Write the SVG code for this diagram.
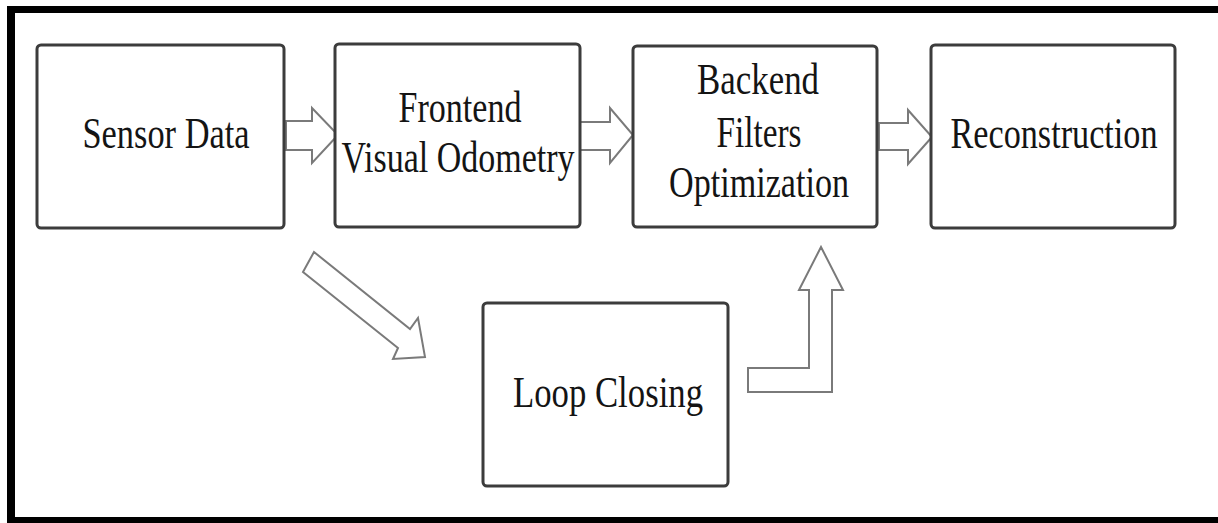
<svg xmlns="http://www.w3.org/2000/svg" width="1218" height="523" viewBox="0 0 1218 523">
  <style>
    .box { fill: #ffffff; stroke: #3c3c3c; stroke-width: 3; }
    .label { font-family: "Liberation Serif", "Times New Roman", Tinos, "DejaVu Serif", serif; font-size: 34px; fill: #141414; text-anchor: middle; }
    .flow { fill: #ffffff; stroke: #7a7a7a; stroke-width: 2; stroke-linejoin: miter; }
    .frame { fill: #000000; }
  </style>

  <rect x="0" y="0" width="1218" height="523" fill="#ffffff"/>

  <!-- outer frame (top, left, bottom) -->
  <g id="frame">
    <rect class="frame" x="7" y="6" width="1211" height="7"/>
    <rect class="frame" x="7" y="6" width="8" height="517"/>
    <rect class="frame" x="7" y="517" width="1211" height="6"/>
  </g>

  <!-- block-arrow connectors -->
  <g id="connectors">
    <polygon class="flow" points="286,121 312,121 312,108 338,135 312,163 312,150 286,150"/>
    <polygon class="flow" points="580,122 610,122 610,108 633,135 610,163 610,150 580,150"/>
    <polygon class="flow" points="879,123 908,123 908,110 932,137 908,164 908,150 879,150"/>
    <polygon class="flow" points="314,252 410,329 418,318 425,357 393,359 398,348 303,272"/>
    <polygon class="flow" points="821,247 843,290 832,290 832,392 748,392 748,368 809,368 809,290 799,290"/>
  </g>

  <g id="sensor-data">
    <rect class="box" x="37" y="45" width="247" height="183" rx="4"/>
    <text class="label" transform="translate(166,148) scale(1,1.29)" textLength="167" lengthAdjust="spacingAndGlyphs">Sensor Data</text>
  </g>

  <g id="frontend">
    <rect class="box" x="335" y="44" width="245" height="183" rx="4"/>
    <text class="label" transform="translate(460,122) scale(1,1.29)" textLength="123" lengthAdjust="spacingAndGlyphs">Frontend</text>
    <text class="label" transform="translate(458,172) scale(1,1.29)" textLength="233" lengthAdjust="spacingAndGlyphs">Visual Odometry</text>
  </g>

  <g id="backend">
    <rect class="box" x="633" y="46" width="244" height="181" rx="4"/>
    <text class="label" transform="translate(758,94) scale(1,1.29)" textLength="122" lengthAdjust="spacingAndGlyphs">Backend</text>
    <text class="label" transform="translate(759,147) scale(1,1.29)" textLength="85" lengthAdjust="spacingAndGlyphs">Filters</text>
    <text class="label" transform="translate(759,197) scale(1,1.29)" textLength="180" lengthAdjust="spacingAndGlyphs">Optimization</text>
  </g>

  <g id="reconstruction">
    <rect class="box" x="931" y="45" width="244" height="183" rx="4"/>
    <text class="label" transform="translate(1054,148) scale(1,1.29)" textLength="207" lengthAdjust="spacingAndGlyphs">Reconstruction</text>
  </g>

  <g id="loop-closing">
    <rect class="box" x="483" y="303" width="245" height="183" rx="4"/>
    <text class="label" transform="translate(608,407) scale(1,1.29)" textLength="190" lengthAdjust="spacingAndGlyphs">Loop Closing</text>
  </g>
</svg>
